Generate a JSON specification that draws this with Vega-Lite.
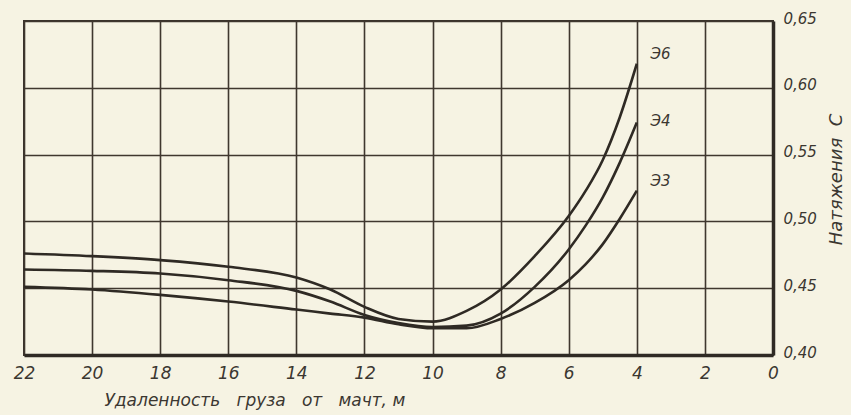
{
  "$schema": "https://vega.github.io/schema/vega-lite/v6.json",
  "width": 749,
  "height": 334,
  "autosize": "none",
  "padding": {"left": 24, "top": 21, "right": 78, "bottom": 60},
  "background": "#f6f3e3",
  "config": {
    "view": {"stroke": "#3a332b", "strokeWidth": 2},
    "font": "DejaVu Sans"
  },
  "datasets": {
    "curves": [
      {"x": 22, "y": 0.476, "s": "Э6"}, {"x": 20, "y": 0.474, "s": "Э6"}, {"x": 18, "y": 0.471, "s": "Э6"},
      {"x": 16, "y": 0.466, "s": "Э6"}, {"x": 14, "y": 0.458, "s": "Э6"}, {"x": 13, "y": 0.449, "s": "Э6"},
      {"x": 12, "y": 0.436, "s": "Э6"}, {"x": 11, "y": 0.427, "s": "Э6"}, {"x": 10, "y": 0.425, "s": "Э6"},
      {"x": 9, "y": 0.433, "s": "Э6"}, {"x": 8, "y": 0.449, "s": "Э6"}, {"x": 7, "y": 0.474, "s": "Э6"},
      {"x": 6, "y": 0.504, "s": "Э6"}, {"x": 5.5, "y": 0.523, "s": "Э6"}, {"x": 5, "y": 0.546, "s": "Э6"},
      {"x": 4.5, "y": 0.578, "s": "Э6"}, {"x": 4, "y": 0.618, "s": "Э6"},
      {"x": 22, "y": 0.464, "s": "Э4"}, {"x": 20, "y": 0.463, "s": "Э4"}, {"x": 18, "y": 0.461, "s": "Э4"},
      {"x": 16, "y": 0.456, "s": "Э4"}, {"x": 14, "y": 0.448, "s": "Э4"}, {"x": 13, "y": 0.440, "s": "Э4"},
      {"x": 12, "y": 0.430, "s": "Э4"}, {"x": 11, "y": 0.424, "s": "Э4"}, {"x": 10, "y": 0.421, "s": "Э4"},
      {"x": 9, "y": 0.422, "s": "Э4"}, {"x": 8, "y": 0.431, "s": "Э4"}, {"x": 7, "y": 0.451, "s": "Э4"},
      {"x": 6, "y": 0.479, "s": "Э4"}, {"x": 5.5, "y": 0.497, "s": "Э4"}, {"x": 5, "y": 0.518, "s": "Э4"},
      {"x": 4.5, "y": 0.544, "s": "Э4"}, {"x": 4, "y": 0.574, "s": "Э4"},
      {"x": 22, "y": 0.451, "s": "Э3"}, {"x": 20, "y": 0.449, "s": "Э3"}, {"x": 18, "y": 0.445, "s": "Э3"},
      {"x": 16, "y": 0.440, "s": "Э3"}, {"x": 14, "y": 0.434, "s": "Э3"}, {"x": 13, "y": 0.431, "s": "Э3"},
      {"x": 12, "y": 0.428, "s": "Э3"}, {"x": 11, "y": 0.423, "s": "Э3"}, {"x": 10, "y": 0.420, "s": "Э3"},
      {"x": 9, "y": 0.420, "s": "Э3"}, {"x": 8, "y": 0.427, "s": "Э3"}, {"x": 7, "y": 0.439, "s": "Э3"},
      {"x": 6, "y": 0.456, "s": "Э3"}, {"x": 5.5, "y": 0.468, "s": "Э3"}, {"x": 5, "y": 0.483, "s": "Э3"},
      {"x": 4.5, "y": 0.502, "s": "Э3"}, {"x": 4, "y": 0.523, "s": "Э3"}
    ],
    "labels": [
      {"x": 3.6, "y": 0.625, "t": "Э6"},
      {"x": 3.6, "y": 0.575, "t": "Э4"},
      {"x": 3.6, "y": 0.530, "t": "Э3"}
    ]
  },
  "layer": [
    {
      "data": {"name": "curves"},
      "mark": {"type": "line", "interpolate": "monotone", "color": "#2f2a24", "strokeWidth": 2.6, "clip": true},
      "encoding": {
        "x": {
          "field": "x", "type": "quantitative",
          "scale": {"domain": [22, 0], "nice": false, "zero": false},
          "axis": {
            "values": [22, 20, 18, 16, 14, 12, 10, 8, 6, 4, 2, 0],
            "title": "Удаленность\u00a0\u00a0\u00a0груза\u00a0\u00a0\u00a0от\u00a0\u00a0\u00a0мачт, м",
            "titleFont": "DejaVu Sans", "titleFontStyle": "italic", "titleFontWeight": "normal",
            "titleFontSize": 17, "titleColor": "#3b3731",
            "titleAnchor": "start", "titleAlign": "left", "titleX": 80, "titleY": 50, "titleBaseline": "alphabetic",
            "labelFont": "DejaVu Sans", "labelFontStyle": "italic", "labelFontSize": 17, "labelColor": "#3b3731",
            "labelPadding": 10, "ticks": false,
            "grid": true, "gridColor": "#3f372e", "gridWidth": 1.6, "gridOpacity": 1,
            "domainColor": "#2f2a24", "domainWidth": 3.5,
            "labelFlush": false
          }
        },
        "y": {
          "field": "y", "type": "quantitative",
          "scale": {"domain": [0.4, 0.65], "nice": false, "zero": false},
          "axis": {
            "orient": "right",
            "values": [0.4, 0.45, 0.5, 0.55, 0.6, 0.65],
            "labelExpr": "replace(format(datum.value, '.2f'), '.', ',')",
            "title": "Натяжения\u00a0\u00a0С",
            "titleFont": "DejaVu Sans", "titleFontStyle": "italic", "titleFontWeight": "normal",
            "titleFontSize": 18, "titleColor": "#3b3731",
            "titleAngle": 270, "titleX": 68, "titleY": 158, "titleBaseline": "alphabetic", "titleAlign": "center",
            "labelFont": "DejaVu Sans", "labelFontStyle": "italic", "labelFontSize": 15, "labelColor": "#3b3731",
            "labelPadding": 10, "labelOffset": -3, "ticks": false,
            "grid": true, "gridColor": "#3f372e", "gridWidth": 1.6, "gridOpacity": 1,
            "domainColor": "#2f2a24", "domainWidth": 3.5,
            "labelFlush": false
          }
        },
        "detail": {"field": "s"}
      }
    },
    {
      "data": {"name": "labels"},
      "mark": {"type": "text", "align": "left", "baseline": "middle", "font": "DejaVu Sans", "fontStyle": "italic", "fontSize": 15, "color": "#3b3731"},
      "encoding": {
        "x": {"field": "x", "type": "quantitative"},
        "y": {"field": "y", "type": "quantitative"},
        "text": {"field": "t"}
      }
    }
  ]
}
